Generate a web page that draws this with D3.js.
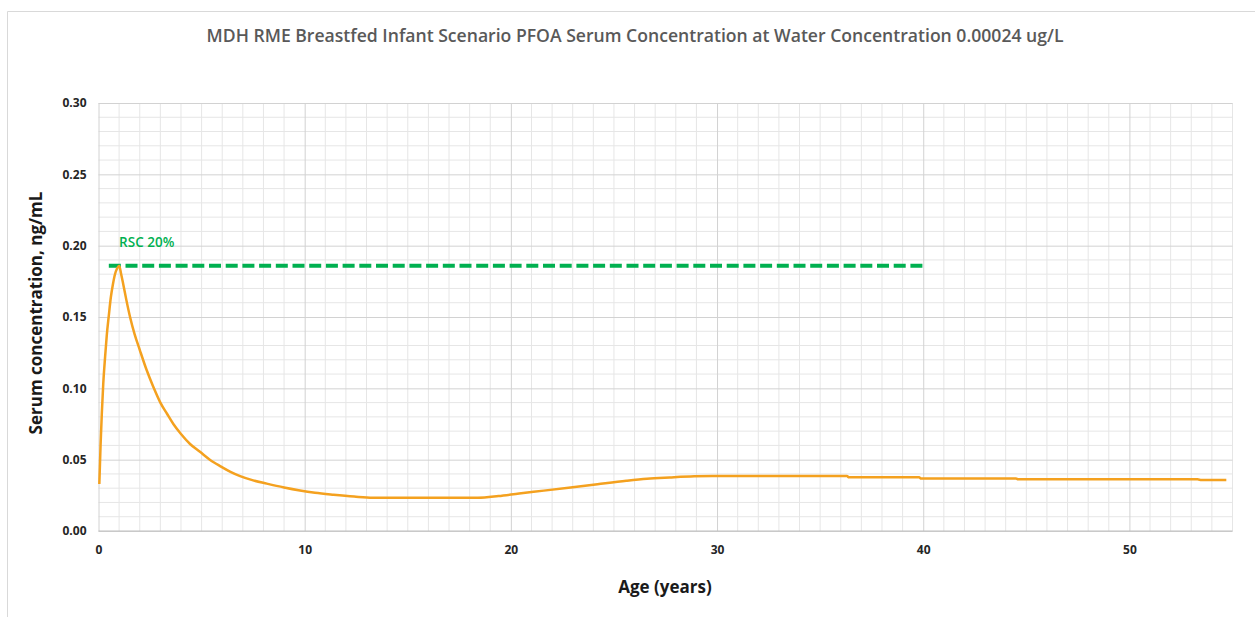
<!DOCTYPE html>
<html>
<head>
<meta charset="utf-8">
<script src="https://cdn.jsdelivr.net/npm/d3@7"></script>
<style>
  html, body { margin: 0; padding: 0; background: #fff; }
  svg { display: block; font-family: "Open Sans", "Noto Sans", sans-serif; }
</style>
</head>
<body>
<div id="chart"></div>
<script>
// Serum concentration curve (age in years, ng/mL)
const ages = [0.04, 0.1, 0.16, 0.23, 0.32, 0.4, 0.5, 0.6, 0.7, 0.8, 0.9, 1.0,
  1.1, 1.2, 1.35, 1.53, 1.75, 2.0, 2.33, 2.66, 3.0, 3.33, 3.63, 4.0, 4.44, 4.92,
  5.4, 5.9, 6.4, 6.87, 7.5, 8.16, 9.0, 9.77, 10.5, 11.4, 12.4, 13.3, 18.4, 19.4,
  20.4, 21.6, 22.9, 24.2, 25.6, 26.6, 27.7, 28.9, 29.8, 36.3, 36.4, 39.8, 39.9,
  44.5, 44.6, 53.3, 53.5, 54.7]
const serum = [0.033, 0.060, 0.082, 0.103, 0.122, 0.137, 0.151, 0.164, 0.173, 0.180, 0.184, 0.186,
  0.180, 0.173, 0.162, 0.150, 0.138, 0.127, 0.113, 0.101, 0.090, 0.082, 0.075, 0.068, 0.061, 0.0555,
  0.050, 0.0455, 0.0415, 0.0385, 0.0355, 0.0332, 0.0305, 0.0284, 0.0268, 0.0254, 0.0241, 0.0233, 0.0233, 0.0245,
  0.0263, 0.0283, 0.0305, 0.0328, 0.0352, 0.0366, 0.0375, 0.0383, 0.0385, 0.0385, 0.0376, 0.0376, 0.0368,
  0.0368, 0.0362, 0.0362, 0.0357, 0.0357]

// RSC 20% reference line
const rscAges = [0.5, 40]
const rscValue = 0.186
const rscLabel = 'RSC 20%'

const xTicks = [0, 10, 20, 30, 40, 50]
const yTicks = [0, 0.05, 0.10, 0.15, 0.20, 0.25, 0.30]

const title = 'MDH RME Breastfed Infant Scenario PFOA Serum Concentration at Water Concentration 0.00024 ug/L'
const xTitle = 'Age (years)'
const yTitle = 'Serum concentration, ng/mL'

const W = 1255, H = 617
const margin = { top: 103, right: 22.5, bottom: 86, left: 98.5 }
const innerW = W - margin.left - margin.right
const innerH = H - margin.top - margin.bottom

const svg = d3.select('#chart').append('svg')
  .attr('width', W)
  .attr('height', H)

// outer chart frame (only top and left edges are in view)
svg.append('path')
  .attr('d', `M7.5,${H} V11.5 H${W}`)
  .attr('fill', 'none')
  .attr('stroke', '#d9d9d9')

const x = d3.scaleLinear().domain([0, 55]).range([0, innerW])
const y = d3.scaleLinear().domain([0, 0.30]).range([innerH, 0])

const g = svg.append('g')
  .attr('transform', `translate(${margin.left},${margin.top})`)

// minor grid
g.append('g')
  .selectAll('line')
  .data(d3.range(0, 56, 1).filter(d => d % 10 !== 0))
  .join('line')
  .attr('x1', d => x(d)).attr('x2', d => x(d))
  .attr('y1', 0).attr('y2', innerH)
  .attr('stroke', '#e6e6e6')

g.append('g')
  .selectAll('line')
  .data(d3.range(1, 30).filter(d => d % 5 !== 0).map(d => d / 100))
  .join('line')
  .attr('x1', 0).attr('x2', innerW)
  .attr('y1', d => y(d)).attr('y2', d => y(d))
  .attr('stroke', '#e6e6e6')

// major grid
g.append('g')
  .call(d3.axisBottom(x).tickValues(xTicks).tickSize(-innerH).tickFormat(''))
  .attr('transform', `translate(0,${innerH})`)
  .call(a => a.select('.domain').remove())
  .selectAll('.tick line').attr('stroke', '#d2d2d2')

g.append('g')
  .call(d3.axisLeft(y).tickValues(yTicks).tickSize(-innerW).tickFormat(''))
  .call(a => a.select('.domain').remove())
  .selectAll('.tick line').attr('stroke', '#d2d2d2')

// bottom axis line
g.append('line')
  .attr('x1', 0).attr('x2', innerW)
  .attr('y1', innerH).attr('y2', innerH)
  .attr('stroke', '#bfbfbf')

// tick labels
const xAxis = g.append('g')
  .attr('transform', `translate(0,${innerH})`)
  .call(d3.axisBottom(x).tickValues(xTicks).tickSize(0).tickPadding(14).tickFormat(d3.format('d')))
xAxis.select('.domain').remove()
xAxis.selectAll('text')
  .attr('font-family', '"Open Sans", sans-serif')
  .attr('font-size', 12)
  .attr('font-weight', 700)
  .attr('fill', '#262626')

const yAxis = g.append('g')
  .call(d3.axisLeft(y).tickValues(yTicks).tickSize(0).tickPadding(12).tickFormat(d3.format('.2f')))
yAxis.select('.domain').remove()
yAxis.selectAll('text')
  .attr('font-family', '"Open Sans", sans-serif')
  .attr('font-size', 12)
  .attr('font-weight', 700)
  .attr('fill', '#262626')

// RSC line
g.append('line')
  .attr('x1', x(rscAges[0])).attr('x2', x(rscAges[1]))
  .attr('y1', y(rscValue)).attr('y2', y(rscValue))
  .attr('stroke', '#00b050')
  .attr('stroke-width', 4)
  .attr('stroke-dasharray', '12,4.7')

g.append('text')
  .attr('x', x(1))
  .attr('y', y(rscValue) - 19)
  .attr('font-size', 13.5)
  .attr('font-weight', 600)
  .attr('fill', '#00b050')
  .text(rscLabel)

// serum curve
const points = ages.map((a, i) => [a, serum[i]])
g.append('path')
  .datum(points)
  .attr('fill', 'none')
  .attr('stroke', '#f4a11f')
  .attr('stroke-width', 2.5)
  .attr('stroke-linejoin', 'round')
  .attr('d', d3.line().x(d => x(d[0])).y(d => y(d[1])).curve(d3.curveMonotoneX))

// titles
svg.append('text')
  .attr('x', 635)
  .attr('y', 42)
  .attr('text-anchor', 'middle')
  .attr('font-size', 17.6)
  .attr('font-weight', 600)
  .attr('fill', '#595959')
  .text(title)

svg.append('text')
  .attr('x', 665)
  .attr('y', 593)
  .attr('text-anchor', 'middle')
  .attr('font-size', 17)
  .attr('font-weight', 700)
  .attr('fill', '#1a1a1a')
  .text(xTitle)

svg.append('text')
  .attr('transform', `translate(42,${margin.top + innerH / 2 - 4}) rotate(-90)`)
  .attr('text-anchor', 'middle')
  .attr('font-size', 17)
  .attr('font-weight', 700)
  .attr('fill', '#1a1a1a')
  .text(yTitle)
</script>
</body>
</html>
